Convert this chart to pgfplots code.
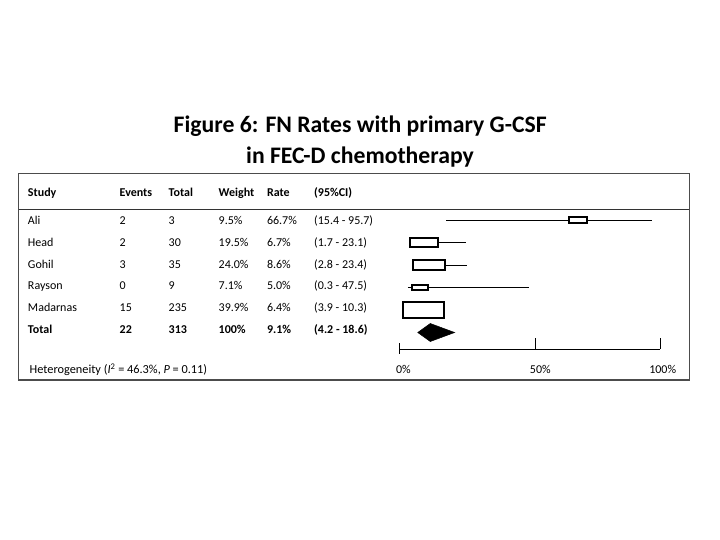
\documentclass[border=0pt]{standalone}
\usepackage{fontspec}
\setmainfont{Carlito}
\usepackage{pgfplots}
\pgfplotsset{compat=1.18}
\begin{document}
\begin{tikzpicture}
\path[use as bounding box, fill=white] (0,0) rectangle (720bp,540bp);
\begin{axis}[at={(0,0)}, anchor=south west, width=720bp, height=540bp, scale only axis,
  xmin=-158.98, xmax=122.27, ymin=-8.7778, ymax=15.2222, y dir=reverse,
  hide axis, clip=false]
% confidence intervals
\addplot[black, line width=0.9bp, mark=none] coordinates {(15.4,1) (95.7,1)};
\addplot[black, line width=0.9bp, mark=none] coordinates {(1.7,2) (23.1,2)};
\addplot[black, line width=0.9bp, mark=none] coordinates {(2.8,3) (23.4,3)};
\addplot[black, line width=0.9bp, mark=none] coordinates {(0.3,4) (47.5,4)};
\addplot[black, line width=0.9bp, mark=none] coordinates {(3.9,5) (10.3,5)};
% weighted boxes
\addplot[black, line width=2bp, fill=white, mark=none] coordinates {(63.1,0.86) (70.3,0.86) (70.3,1.14) (63.1,1.14)} -- cycle;
\addplot[black, line width=2bp, fill=white, mark=none] coordinates {(1.3,1.793) (12.1,1.793) (12.1,2.207) (1.3,2.207)} -- cycle;
\addplot[black, line width=2bp, fill=white, mark=none] coordinates {(2.5,2.762) (14.7,2.762) (14.7,3.238) (2.5,3.238)} -- cycle;
\addplot[black, line width=2bp, fill=white, mark=none] coordinates {(1.9,3.896) (8.1,3.896) (8.1,4.104) (1.9,4.104)} -- cycle;
\addplot[black, line width=2bp, fill=white, mark=none] coordinates {(-1.6,4.66) (14.4,4.66) (14.4,5.34) (-1.6,5.34)} -- cycle;
% pooled estimate
\addplot[black, fill=black, line width=0.5bp, mark=none] coordinates {(4.2,6) (9.1,5.6) (18.6,6) (9.1,6.4)} -- cycle;
\end{axis}
\begin{scope}[x=1bp, y=-1bp, yshift=540bp]
% frame
\draw[black!70, line width=1.2bp] (18.7,173.3) rectangle (689.3,380);
\draw[black!80, line width=1.2bp] (18.7,209.3) -- (689.3,209.3);
% scale
\draw[black, line width=0.9bp] (399.3,349.3) -- (660.3,349.3);
\draw[black, line width=0.9bp] (399.3,343.3) -- (399.3,354);
\draw[black, line width=0.9bp] (535.7,338.3) -- (535.7,349.3);
\draw[black, line width=0.9bp] (660.3,338.3) -- (660.3,349.3);
\begin{scope}[every node/.style={inner sep=0pt, anchor=base, font=\fontsize{12bp}{14bp}\selectfont}]
\node at (403.4,373.5) {0\%};
\node at (540.3,373.5) {50\%};
\node at (662.7,373.5) {100\%};
\end{scope}
% title
\node[inner sep=0pt, anchor=base, font=\fontsize{23.7bp}{28bp}\selectfont\bfseries] at (360.2,132.5) {Figure 6: FN Rates with primary G-CSF};
\node[inner sep=0pt, anchor=base, font=\fontsize{23.7bp}{28bp}\selectfont\bfseries] at (360.0,163.3) {in FEC-D chemotherapy};
% table
\begin{scope}[every node/.style={inner sep=0pt, anchor=base west, font=\fontsize{12bp}{14bp}\selectfont}]
\node[font=\fontsize{12bp}{14bp}\selectfont\bfseries] at (27.8,196.7) {Study};
\node[font=\fontsize{12bp}{14bp}\selectfont\bfseries] at (119.5,196.7) {Events};
\node[font=\fontsize{12bp}{14bp}\selectfont\bfseries] at (168.5,196.7) {Total};
\node[font=\fontsize{12bp}{14bp}\selectfont\bfseries] at (218.5,196.7) {Weight};
\node[font=\fontsize{12bp}{14bp}\selectfont\bfseries] at (266.8,196.7) {Rate};
\node[font=\fontsize{12bp}{14bp}\selectfont\bfseries] at (314,196.7) {(95\%CI)};
%
\node at (27.8,225) {Ali};       \node at (119.5,225) {2};  \node at (168.5,225) {3};   \node at (218.5,225) {9.5\%};  \node at (266.8,225) {66.7\%}; \node at (314,225) {(15.4 - 95.7)};
\node at (27.8,246.7) {Head};    \node at (119.5,246.7) {2};  \node at (168.5,246.7) {30};  \node at (218.5,246.7) {19.5\%}; \node at (266.8,246.7) {6.7\%};  \node at (314,246.7) {(1.7 - 23.1)};
\node at (27.8,268.3) {Gohil};   \node at (119.5,268.3) {3};  \node at (168.5,268.3) {35};  \node at (218.5,268.3) {24.0\%}; \node at (266.8,268.3) {8.6\%};  \node at (314,268.3) {(2.8 - 23.4)};
\node at (27.8,290) {Rayson};    \node at (119.5,290) {0};  \node at (168.5,290) {9};   \node at (218.5,290) {7.1\%};  \node at (266.8,290) {5.0\%};  \node at (314,290) {(0.3 - 47.5)};
\node at (27.8,311.6) {Madarnas};\node at (119.5,311.6) {15}; \node at (168.5,311.6) {235}; \node at (218.5,311.6) {39.9\%}; \node at (266.8,311.6) {6.4\%};  \node at (314,311.6) {(3.9 - 10.3)};
\begin{scope}[every node/.append style={font=\fontsize{12bp}{14bp}\selectfont\bfseries}]
\node at (27.8,333.3) {Total};   \node at (119.5,333.3) {22}; \node at (168.5,333.3) {313}; \node at (218.5,333.3) {100\%};  \node at (266.8,333.3) {9.1\%};  \node at (314,333.3) {(4.2 - 18.6)};
\end{scope}
\node[font=\fontsize{12.3bp}{14bp}\selectfont] at (29.5,374) {Heterogeneity (\textit{I}\textsuperscript{2} = 46.3\%, \textit{P} = 0.11)};
\end{scope}
\end{scope}
\end{tikzpicture}
\end{document}
